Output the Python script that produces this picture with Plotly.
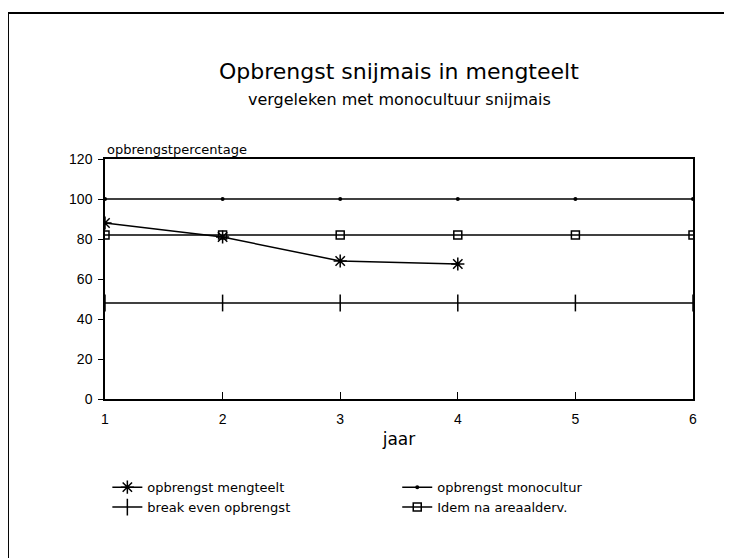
import plotly.graph_objects as go

# jaar (x-as)
jaren = [1, 2, 3, 4, 5, 6]
jaren_mengteelt = [1, 2, 3, 4]

# opbrengstpercentages
opbrengst_mengteelt = [88, 81, 69, 67.5]
opbrengst_monocultuur = [100, 100, 100, 100, 100, 100]
break_even = [48, 48, 48, 48, 48, 48]
idem_na_areaalderv = [82, 82, 82, 82, 82, 82]

y_ticks = [0, 20, 40, 60, 80, 100, 120]

FONT = "DejaVu Sans"

fig = go.Figure()

fig.add_trace(go.Scatter(
    x=jaren_mengteelt, y=opbrengst_mengteelt, name="opbrengst mengteelt",
    mode="lines+markers", legend="legend",
    line=dict(color="black", width=1.5),
    marker=dict(symbol="asterisk-open", size=11, color="black",
                line=dict(color="black", width=1.5))
))
fig.add_trace(go.Scatter(
    x=jaren, y=break_even, name="break even opbrengst",
    mode="lines+markers", legend="legend",
    line=dict(color="black", width=1.5),
    marker=dict(symbol="line-ns-open", size=12, color="black",
                line=dict(color="black", width=1.5))
))
fig.add_trace(go.Scatter(
    x=jaren, y=opbrengst_monocultuur, name="opbrengst monocultur",
    mode="lines+markers", legend="legend2",
    line=dict(color="black", width=1.5),
    marker=dict(symbol="circle", size=4, color="black")
))
fig.add_trace(go.Scatter(
    x=jaren, y=idem_na_areaalderv, name="Idem na areaalderv.",
    mode="lines+markers", legend="legend2",
    line=dict(color="black", width=1.5),
    marker=dict(symbol="square-open", size=8, color="black",
                line=dict(color="black", width=1.5))
))

legend_style = dict(
    orientation="v", yanchor="top", xanchor="left",
    font=dict(family=FONT, size=13, color="black"),
    itemwidth=30, bgcolor="rgba(0,0,0,0)",
)

fig.update_layout(
    width=732, height=558,
    margin=dict(l=97, r=47, t=151, b=167, autoexpand=False),
    paper_bgcolor="white", plot_bgcolor="white",
    font=dict(family=FONT, color="black"),
    showlegend=True,
    legend=dict(x=0.004, y=-0.305, **legend_style),
    legend2=dict(x=0.497, y=-0.305, **legend_style),
)

fig.update_xaxes(
    range=[1, 6], tickvals=jaren, ticks="inside", ticklen=7, tickcolor="black",
    showline=True, linecolor="black", linewidth=1.5, mirror=True,
    showgrid=False, zeroline=False, ticklabelstandoff=6,
    tickfont=dict(family="Liberation Sans", size=14),
    title=dict(text="jaar", font=dict(family=FONT, size=17), standoff=8),
)
fig.update_yaxes(
    range=[0, 120], tickvals=y_ticks, ticks="outside", ticklen=5, tickcolor="black",
    showline=True, linecolor="black", linewidth=1.5, mirror=True,
    showgrid=False, zeroline=False, ticklabelstandoff=3,
    tickfont=dict(family="Liberation Sans", size=14),
)

# titels
fig.add_annotation(text="Opbrengst snijmais in mengteelt", xref="paper", yref="paper",
                   x=0.5, y=1.3625, yanchor="middle", showarrow=False,
                   font=dict(family=FONT, size=22))
fig.add_annotation(text="vergeleken met monocultuur snijmais", xref="paper", yref="paper",
                   x=0.5, y=1.246, yanchor="middle", showarrow=False,
                   font=dict(family=FONT, size=16))
fig.add_annotation(text="opbrengstpercentage", xref="paper", yref="paper",
                   x=0, y=1.0, xanchor="left", yanchor="bottom", showarrow=False,
                   font=dict(family=FONT, size=13))

# kader rond de figuur (boven en links)
fig.add_shape(type="line", xref="paper", yref="paper",
              x0=-0.165, x1=1.1, y0=1.608, y1=1.608,
              line=dict(color="black", width=2))
fig.add_shape(type="line", xref="paper", yref="paper",
              x0=-0.165, x1=-0.165, y0=1.608, y1=-0.7,
              line=dict(color="black", width=2))

fig.write_html("out.html")
